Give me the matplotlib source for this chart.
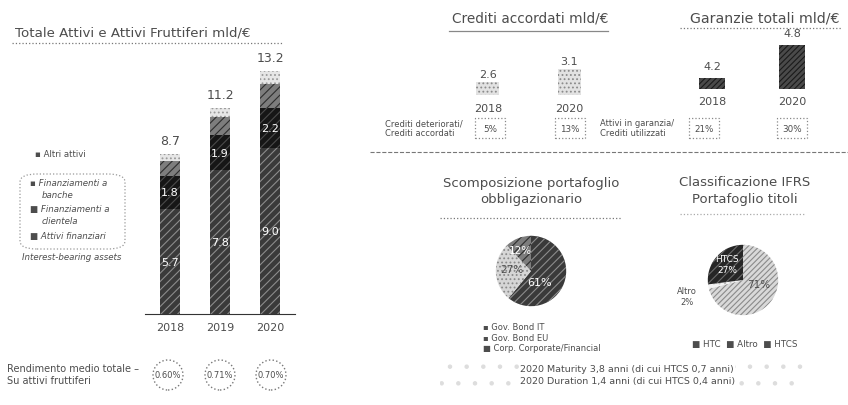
import matplotlib.pyplot as plt
from matplotlib.patches import Ellipse, Rectangle, FancyBboxPatch
from matplotlib.lines import Line2D

plt.rcParams['font.family'] = ['DejaVu Sans']
plt.rcParams['hatch.linewidth'] = 0.8

# --- dati ---
anni = ['2018', '2019', '2020']
attivi_finanziari = [5.7, 7.8, 9.0]
fin_clientela = [1.8, 1.9, 2.2]
fin_banche = [0.8, 1.0, 1.3]
altri_attivi = [0.4, 0.5, 0.7]
totale_attivi = [8.7, 11.2, 13.2]
rendimento = ['0.60%', '0.71%', '0.70%']

anni_crediti = ['2018', '2020']
crediti_accordati = [2.6, 3.1]
npl_ratio = ['5%', '13%']
garanzie_totali = [4.2, 4.8]
garanzie_ratio = ['21%', '30%']

obblig_labels = ['Gov. Bond IT', 'Gov. Bond EU', 'Corp. Corporate/Financial']
obblig_quote = [61, 27, 12]
ifrs_labels = ['HTC', 'Altro', 'HTCS']
ifrs_quote = [71, 2, 27]

W, H = 848, 406
fig = plt.figure(figsize=(W / 100, H / 100), dpi=100)
TXT = '#4d4d4d'


def fx(x):
    return x / W


def fy(y):
    return 1 - y / H


def add_ax(x0, y0, x1, y1):
    ax = fig.add_axes([fx(x0), fy(y1), (x1 - x0) / W, (y1 - y0) / H])
    ax.patch.set_alpha(0)
    return ax


def txt(x, y, s, **kw):
    kw.setdefault('color', TXT)
    kw.setdefault('va', 'center')
    fig.text(fx(x), fy(y), s, **kw)


def hline(x0, x1, y, ls=':', color='#777777', lw=0.9):
    fig.add_artist(Line2D([fx(x0), fx(x1)], [fy(y), fy(y)], ls=ls, color=color, lw=lw))


def dashed_box(cx, cy, w, h):
    fig.add_artist(Rectangle((fx(cx - w / 2), fy(cy + h / 2)), w / W, h / H,
                             fill=False, ls=':', ec='#888888', lw=0.9))


# stili dei segmenti (face, hatch color, hatch)
S_FIN = ('#3a3a3a', '#8c8c8c', '////')
S_CLI = ('#161616', '#4a4a4a', '////')
S_BAN = ('#7d7d7d', '#2e2e2e', '////')
S_ALT = ('#e6e6e6', '#9a9a9a', '....')

# --- Totale attivi ---
txt(15, 33, 'Totale Attivi e Attivi Fruttiferi mld/€', fontsize=9.6)
hline(12, 282, 44)

ax = add_ax(145, 48, 295, 315)
x = range(len(anni))
bottom = [0, 0, 0]
for vals, (fc, hc, ht) in [(attivi_finanziari, S_FIN), (fin_clientela, S_CLI),
                           (fin_banche, S_BAN), (altri_attivi, S_ALT)]:
    ax.bar(x, vals, width=0.4, bottom=bottom, color=fc, edgecolor=hc, hatch=ht, lw=0)
    bottom = [b + v for b, v in zip(bottom, vals)]
for i in x:
    ax.text(i, attivi_finanziari[i] / 2, f'{attivi_finanziari[i]:.1f}', ha='center', va='center',
            color='white', fontsize=8)
    ax.text(i, attivi_finanziari[i] + fin_clientela[i] / 2, f'{fin_clientela[i]:.1f}', ha='center',
            va='center', color='white', fontsize=8)
    ax.text(i, totale_attivi[i] + 0.35, f'{totale_attivi[i]:.1f}', ha='center', va='bottom',
            color=TXT, fontsize=9)
ax.set_xlim(-0.5, 2.5)
ax.set_ylim(0, 14.5)
ax.set_xticks(list(x), anni, fontsize=8, color=TXT)
ax.tick_params(length=0, pad=6)
ax.set_yticks([])
for s in ['left', 'right', 'top']:
    ax.spines[s].set_visible(False)
ax.spines['bottom'].set_color('#333333')

# legenda
txt(35, 155, '▪ Altri attivi', fontsize=6.2)
txt(30, 183, '▪ Finanziamenti a', fontsize=6.2, style='italic')
txt(42, 196, 'banche', fontsize=6.2, style='italic')
txt(30, 210, '■ Finanziamenti a', fontsize=6.2, style='italic')
txt(42, 222, 'clientela', fontsize=6.2, style='italic')
txt(30, 237, '■ Attivi finanziari', fontsize=6.2, style='italic')
txt(22, 258, 'Interest-bearing assets', fontsize=6.2, style='italic')
fig.add_artist(FancyBboxPatch((fx(20), fy(250)), 105 / W, 75 / H,
                              boxstyle='round,pad=0,rounding_size=0.02',
                              fill=False, ls=':', ec='#999999', lw=0.9))

# rendimento medio
txt(7, 369, 'Rendimento medio totale –', fontsize=7)
txt(7, 381, 'Su attivi fruttiferi', fontsize=7)
for cx, r in zip([168, 220, 271], rendimento):
    fig.add_artist(Ellipse((fx(cx), fy(376)), 30 / W, 30 / H, fill=False,
                           ls=':', ec='#777777', lw=1))
    txt(cx, 376, r, fontsize=6, ha='center')

# --- Crediti accordati ---
txt(530, 18, 'Crediti accordati mld/€', fontsize=9.8, ha='center')
hline(449, 608, 32, ls='-', color='#888888')
axc = add_ax(447, 60, 610, 96)
axc.bar(range(2), crediti_accordati, width=0.28, color='#e2e2e2', edgecolor='#8a8a8a',
        hatch='....', lw=0)
for i, v in enumerate(crediti_accordati):
    axc.text(i, v + 0.12, f'{v:.1f}', ha='center', va='bottom', fontsize=8, color=TXT, clip_on=False)
axc.set_xlim(-0.5, 1.5)
axc.set_ylim(2.1, 3.5)
axc.set_xticks(range(2), anni_crediti, fontsize=8, color=TXT)
axc.tick_params(length=0, pad=6)
axc.set_yticks([])
for s in axc.spines.values():
    s.set_visible(False)

txt(385, 124, 'Crediti deteriorati/', fontsize=6)
txt(385, 134, 'Crediti accordati', fontsize=6)
for cx, r in zip([490, 570], npl_ratio):
    dashed_box(cx, 129, 30, 20)
    txt(cx, 129, r, fontsize=6.3, ha='center')

# --- Garanzie totali ---
txt(765, 18, 'Garanzie totali mld/€', fontsize=10.2, ha='center')
hline(680, 842, 29, ls=':', color='#777777')
axg = add_ax(672, 35, 832, 90)
axg.bar(range(2), garanzie_totali, width=0.32, color='#4a4a4a', edgecolor='#1a1a1a',
        hatch='//////', lw=0)
for i, v in enumerate(garanzie_totali):
    axg.text(i, v + 0.12, f'{v:.1f}', ha='center', va='bottom', fontsize=8, color=TXT, clip_on=False)
axg.set_xlim(-0.5, 1.5)
axg.set_ylim(4.0, 5.0)
axg.set_xticks(range(2), anni_crediti, fontsize=8, color=TXT)
axg.tick_params(length=0, pad=5)
axg.set_yticks([])
for s in axg.spines.values():
    s.set_visible(False)

txt(600, 124, 'Attivi in garanzia/', fontsize=6)
txt(600, 134, 'Crediti utilizzati', fontsize=6)
for cx, r in zip([704, 792], garanzie_ratio):
    dashed_box(cx, 129, 30, 20)
    txt(cx, 129, r, fontsize=6.3, ha='center')

hline(370, 848, 153, ls='--', color='#777777', lw=0.8)

# --- Scomposizione portafoglio obbligazionario ---
txt(531, 183, 'Scomposizione portafoglio', fontsize=9.5, ha='center')
txt(531, 200, 'obbligazionario', fontsize=9.5, ha='center')
hline(440, 622, 219)
axp = add_ax(486, 228, 576, 316)
w1, _ = axp.pie(obblig_quote, startangle=90, counterclock=False,
                wedgeprops=dict(lw=1.2, edgecolor='white'))
for w, (fc, hc, ht) in zip(w1, [S_FIN, ('#d6d6d6', '#8a8a8a', '....'), S_BAN]):
    w.set_facecolor(fc)
    w.set_hatch(ht)
    w.set_edgecolor(hc)
    w.set_linewidth(0)
axp.text(0.25, -0.3, f'{obblig_quote[0]}%', color='white', fontsize=8, ha='center', va='center')
axp.text(-0.55, 0.05, f'{obblig_quote[1]}%', color=TXT, fontsize=7.5, ha='center', va='center')
axp.text(-0.3, 0.6, f'{obblig_quote[2]}%', color='white', fontsize=7.5, ha='center', va='center')
axp.set_aspect('equal')
leg_mk = ['▪', '▪', '■']
for k, (lab, mk) in enumerate(zip(obblig_labels, leg_mk)):
    txt(483, 328 + k * 10.5, f'{mk} {lab}', fontsize=6)

# --- Classificazione IFRS ---
txt(745, 183, 'Classificazione IFRS', fontsize=9.5, ha='center')
txt(745, 200, 'Portafoglio titoli', fontsize=9.5, ha='center')
hline(680, 805, 215, color='#aaaaaa')
axi = add_ax(699, 237, 787, 325)
w2, _ = axi.pie(ifrs_quote, startangle=90, counterclock=False,
                wedgeprops=dict(lw=0))
for w, (fc, hc, ht) in zip(w2, [('#d9d9d9', '#8a8a8a', '//////'), ('#f2f2f2', '#bbbbbb', '...'),
                                ('#262626', '#6a6a6a', '////')]):
    w.set_facecolor(fc)
    w.set_hatch(ht)
    w.set_edgecolor(hc)
axi.text(0.45, -0.1, f'{ifrs_quote[0]}%', color=TXT, fontsize=7.5, ha='center', va='center')
axi.text(-0.45, 0.45, f'{ifrs_labels[2]}\n{ifrs_quote[2]}%', color='white', fontsize=6.5,
         ha='center', va='center')
axi.text(-1.6, -0.45, f'{ifrs_labels[1]}\n{ifrs_quote[1]}%', color=TXT, fontsize=6,
         ha='center', va='center')
axi.set_aspect('equal')
txt(745, 345, '  '.join(f'■ {lab}' for lab in ifrs_labels), fontsize=6.3, ha='center')

# --- nota durata ---
fig.add_artist(FancyBboxPatch((fx(440), fy(396)), 365 / W, 38 / H,
                              boxstyle='round,pad=0,rounding_size=0.03',
                              fc='white', ec='#dddddd', hatch='.', lw=0))
txt(520, 370, '2020 Maturity 3,8 anni (di cui HTCS 0,7 anni)', fontsize=6.8,
    bbox=dict(fc='white', ec='none', pad=1))
txt(520, 382, '2020 Duration 1,4 anni (di cui HTCS 0,4 anni)', fontsize=6.8,
    bbox=dict(fc='white', ec='none', pad=1))

fig.savefig('out.png', dpi=100)
